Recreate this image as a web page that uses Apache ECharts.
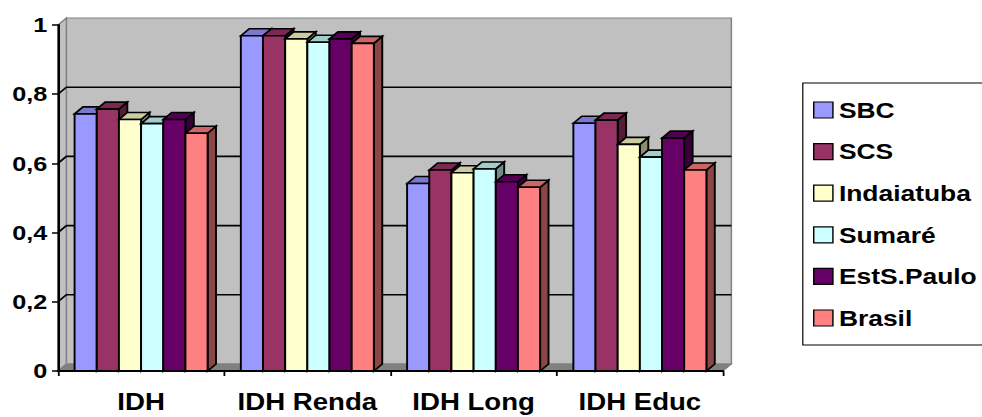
<!DOCTYPE html>
<html>
<head>
<meta charset="utf-8">
<script src="https://cdn.jsdelivr.net/npm/echarts@6/dist/echarts.min.js"></script>
<style>
  html, body { margin: 0; padding: 0; background: #fff; overflow: hidden; }
  /* the chart is laid out narrow and stretched horizontally for the wide Excel look;
     it runs past the right edge so the legend box is cut off there */
  #chart { width: 860px; height: 417px; transform: scaleX(1.2); transform-origin: 0 0; }
</style>
</head>
<body>
<div id="chart"></div>
<script>
// Categories (x axis)
const categories = ['IDH', 'IDH Renda', 'IDH Long', 'IDH Educ'];

// Series values, one array per locality
const sbc        = [0.743, 0.969, 0.542, 0.716];
const scs        = [0.757, 0.969, 0.581, 0.725];
const indaiatuba = [0.727, 0.960, 0.573, 0.655];
const sumare     = [0.715, 0.950, 0.584, 0.618];
const estSPaulo  = [0.727, 0.960, 0.547, 0.673];
const brasil     = [0.687, 0.947, 0.531, 0.581];

const seriesNames = ['SBC', 'SCS', 'Indaiatuba', 'Sumaré', 'EstS.Paulo', 'Brasil'];
const seriesData  = [sbc, scs, indaiatuba, sumare, estSPaulo, brasil];
const seriesColors = ['#9999FF', '#993366', '#FFFFCC', '#CCFFFF', '#660066', '#FF8080'];

// Value axis ticks and gridlines
const yTicks = [0, 0.2, 0.4, 0.6, 0.8, 1];
const gridValues = [0.2, 0.4, 0.6, 0.8];

const DEPTH = 7;          // 3D depth offset in px
const CAT_GAP = 0.2;      // fraction of each category band left empty
const FONT = 'Arial, Liberation Sans, sans-serif';

function shade(hex, f) {
  const n = parseInt(hex.slice(1), 16);
  const r = Math.round(((n >> 16) & 255) * f);
  const g = Math.round(((n >> 8) & 255) * f);
  const b = Math.round((n & 255) * f);
  return 'rgb(' + r + ',' + g + ',' + b + ')';
}

// Back wall, side wall, floor and gridlines of the 3D plot area
function renderWalls(params, api) {
  const cs = params.coordSys;
  const x = cs.x, y = cs.y, w = cs.width, h = cs.height, d = DEPTH;
  const children = [
    { type: 'rect', shape: { x: x + d, y: y - d, width: w, height: h },
      style: { fill: '#C0C0C0', stroke: '#808080', lineWidth: 1.2 } },
    { type: 'polygon', shape: { points: [[x, y + h], [x, y], [x + d, y - d], [x + d, y + h - d]] },
      style: { fill: '#C0C0C0', stroke: '#808080', lineWidth: 1.2 } },
    { type: 'polygon', shape: { points: [[x, y + h], [x + d, y + h - d], [x + w + d, y + h - d], [x + w, y + h]] },
      style: { fill: '#808080', stroke: '#808080', lineWidth: 1 } }
  ];
  gridValues.forEach(function (v) {
    const yv = api.coord([0, v])[1];
    children.push({ type: 'polyline',
      shape: { points: [[x, yv], [x + d, yv - d], [x + w + d, yv - d]] },
      style: { fill: null, stroke: '#000', lineWidth: 1.6 } });
  });
  return { type: 'group', children: children };
}

// One 3D column: side face, top face, front face
function makeBarRenderer(sIdx) {
  const color = seriesColors[sIdx];
  const topColor = shade(color, 0.8);
  const sideColor = shade(color, 0.55);
  return function (params, api) {
    const cat = api.value(0), val = api.value(1);
    const base = api.coord([cat, 0]);
    const top = api.coord([cat, val]);
    const band = api.size([1, 0])[0];
    const groupW = band * (1 - CAT_GAP);
    const bw = groupW / seriesNames.length;
    const x0 = base[0] - groupW / 2 + sIdx * bw;
    const x1 = x0 + bw;
    const yt = top[1], yb = base[1], d = DEPTH;
    const line = { stroke: '#000', lineWidth: 1.6, lineJoin: 'miter' };
    return {
      type: 'group',
      children: [
        { type: 'polygon', shape: { points: [[x1, yt], [x1 + d, yt - d], [x1 + d, yb - d], [x1, yb]] },
          style: Object.assign({ fill: sideColor }, line) },
        { type: 'polygon', shape: { points: [[x0, yt], [x0 + d, yt - d], [x1 + d, yt - d], [x1, yt]] },
          style: Object.assign({ fill: topColor }, line) },
        { type: 'rect', shape: { x: x0, y: yt, width: bw, height: yb - yt },
          style: Object.assign({ fill: color }, line) }
      ]
    };
  };
}

const series = [{
  type: 'custom',
  name: 'walls',
  silent: true,
  renderItem: renderWalls,
  data: [[0, 0]],
  z: 1
}];
seriesNames.forEach(function (name, i) {
  series.push({
    type: 'custom',
    name: name,
    renderItem: makeBarRenderer(i),
    itemStyle: { color: seriesColors[i] },
    encode: { x: 0, y: 1 },
    data: seriesData[i].map(function (v, c) { return [c, v]; }),
    z: 2
  });
});

const chart = echarts.init(document.getElementById('chart'), null, { renderer: 'svg' });
chart.setOption({
  animation: false,
  backgroundColor: '#fff',
  grid: { left: 48.3, right: 257.5, top: 25, bottom: 46, containLabel: false },
  xAxis: {
    type: 'category',
    data: categories,
    boundaryGap: true,
    axisLine: { show: true, lineStyle: { color: '#000', width: 2 } },
    axisTick: { show: true, length: 5, lineStyle: { color: '#000', width: 1.5 } },
    axisLabel: { interval: 0, color: '#000', fontFamily: FONT, fontWeight: 'bold', fontSize: 23, margin: 19 },
    splitLine: { show: false },
    z: 5
  },
  yAxis: {
    type: 'value',
    min: 0,
    max: 1,
    interval: 0.2,
    axisLine: { show: true, lineStyle: { color: '#000', width: 2 } },
    axisTick: { show: true, length: 5, lineStyle: { color: '#000', width: 1.5 } },
    axisLabel: {
      color: '#000', fontFamily: FONT, fontWeight: 'bold', fontSize: 21, margin: 9,
      formatter: function (v) {
        const t = yTicks.find(function (k) { return Math.abs(k - v) < 1e-9; });
        return String(t).replace('.', ',');
      }
    },
    splitLine: { show: false },
    z: 5
  },
  legend: {
    data: seriesNames,
    orient: 'vertical',
    left: 669,
    top: 83,
    padding: [16, 40, 16, 8.5],
    itemGap: 19.6,
    itemWidth: 16,
    itemHeight: 16,
    icon: 'rect',
    borderColor: '#000',
    borderWidth: 1,
    backgroundColor: '#fff',
    itemStyle: { borderColor: '#000', borderWidth: 1.2 },
    textStyle: { color: '#000', fontFamily: FONT, fontWeight: 'bold', fontSize: 22, lineHeight: 22, padding: [0, 0, 0, 0] },
    selectedMode: false
  },
  series: series
});
</script>
</body>
</html>
